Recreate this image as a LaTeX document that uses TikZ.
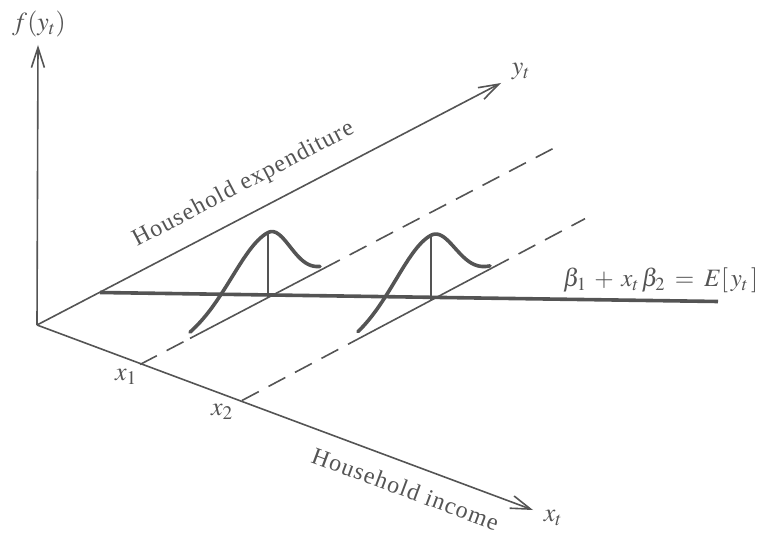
\documentclass[tikz,border=0pt]{standalone}
\usepackage{mathptmx}
\usepackage{fontspec}
\setmainfont{Liberation Serif}
\usetikzlibrary{arrows.meta}
\definecolor{ink}{gray}{0.33}
\tikzset{
  axis/.style={draw=ink, line width=1.6pt, -{Straight Barb[length=20pt,width=13pt]}},
  thin/.style={draw=ink, line width=1.6pt},
  dashline/.style={draw=ink, line width=1.6pt, dash pattern=on 19pt off 11pt},
  thick curve/.style={draw=ink, line width=3.6pt, line cap=round, line join=round},
  lbl/.style={text=ink, inner sep=0pt, font=\fontsize{26}{30}\selectfont},
  axtext/.style={text=ink, inner sep=0pt, font=\fontsize{24}{28}\selectfont\addfontfeature{LetterSpace=5}},
}
\begin{document}
\begin{tikzpicture}[x=1pt,y=-1pt]
\useasboundingbox (0,0) rectangle (777,540);
% axes
\coordinate (O) at (37,325);
\coordinate (Ftop) at (38,45);
\coordinate (Yend) at (501,83);
\coordinate (Xend) at (533,510);
\draw[axis] (O) -- (Ftop);
\draw[axis] (O) -- (Yend);
\draw[axis] (O) -- (Xend);
% ticks on income axis
\coordinate (X1) at (140,364.5);
\coordinate (X2) at (242,400.5);
% first distribution line, peak base P1
\coordinate (P1) at (268,297.6);
\coordinate (A1) at (190,338.4);
\coordinate (B1) at (323,268.8);
\coordinate (E1) at (555,147.5);
% second distribution line, peak base P2
\coordinate (P2) at (431,300.3);
\coordinate (A2) at (358,339.0);
\coordinate (B2) at (492,268.0);
\coordinate (E2) at (585,218.7);
\draw[dashline] (X1) -- (A1);
\draw[thin] (A1) -- (B1);
\draw[dashline] (B1) -- (E1);
\draw[dashline] (X2) -- (A2);
\draw[thin] (A2) -- (B2);
\draw[dashline] (B2) -- (E2);
% regression line
\coordinate (R0) at (100,292.5);
\coordinate (R1) at (718,301.5);
\draw[thick curve, line cap=butt] (R0) -- (R1);
% peaks
\coordinate (T1) at (268,232.6);
\coordinate (T2) at (431,235.3);
\draw[thin] (P1) -- (T1);
\draw[thin] (P2) -- (T2);
% density curves
\draw[thick curve] plot[domain=-78:0, samples=40, variable=\t]
  ({268+\t},{297.6-0.523*\t-65*exp(-(\t*\t)/(2*36*36))})
  -- plot[domain=0:52, samples=30, variable=\t]
  ({268+\t},{297.6-0.523*\t-65*exp(-(\t*\t)/(2*22*22))});
\draw[thick curve] plot[domain=-73:0, samples=40, variable=\t]
  ({431+\t},{300.3-0.53*\t-65*exp(-(\t*\t)/(2*35*35))})
  -- plot[domain=0:59, samples=30, variable=\t]
  ({431+\t},{300.3-0.53*\t-65*exp(-(\t*\t)/(2*24*24))});
% labels
\node[lbl] (fy) at (39,24) {$f(y_t)$};
\node[lbl] (yt) at (521,72) {$y_t$};
\node[lbl] (xt) at (553,518) {$x_t$};
\node[lbl] (x1) at (126,377) {$x_1$};
\node[lbl] (x2) at (222,412) {$x_2$};
\node[axtext, anchor=base west, rotate=27.6] (hexp) at (137,247) {Household expenditure};
\node[axtext, anchor=base west, rotate=-20.4] (hinc) at (310,462) {Household income};
\node[lbl, anchor=base west, font=\fontsize{25}{29}\selectfont] (reg) at (563,287) {$\beta_1\mkern3mu + \mkern3mu x_t\,\beta_2 \mkern3mu=\mkern3mu E[\,y_t\,]$};
\end{tikzpicture}
\end{document}
